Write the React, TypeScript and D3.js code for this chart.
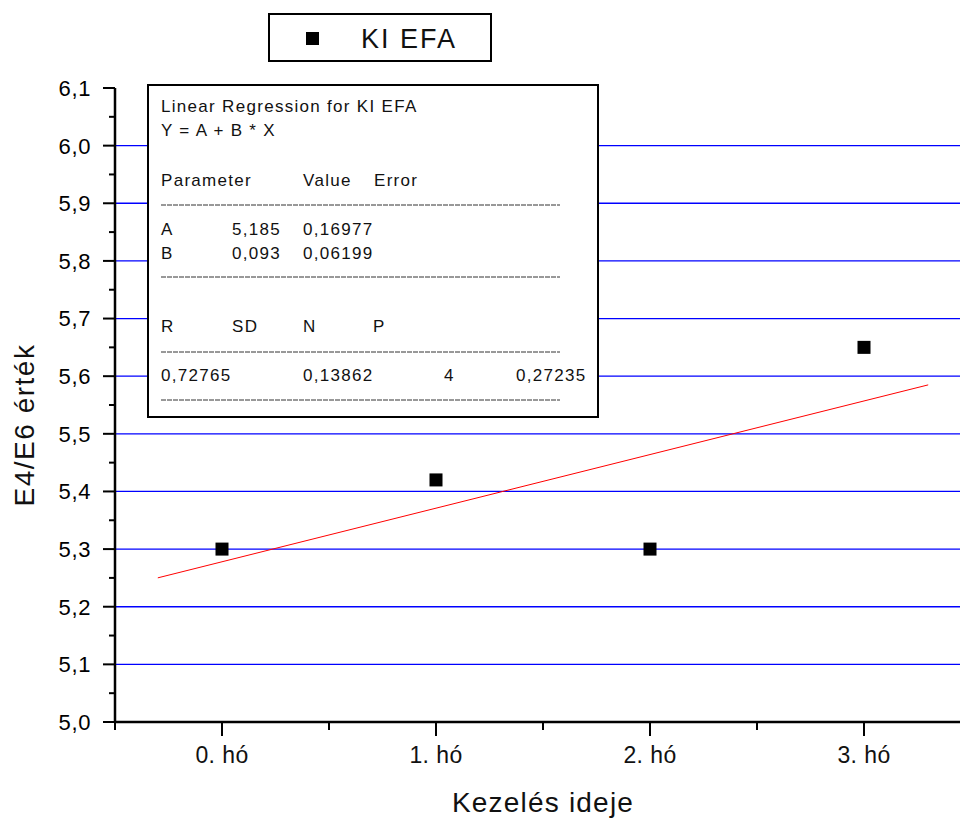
import React from "react";
import * as d3 from "d3";

const categories = ["0. hó", "1. hó", "2. hó", "3. hó"];
const values = [5.3, 5.42, 5.3, 5.65];
const yTicks = [5.0, 5.1, 5.2, 5.3, 5.4, 5.5, 5.6, 5.7, 5.8, 5.9, 6.0, 6.1];
const yMinor = [5.05, 5.15, 5.25, 5.35, 5.45, 5.55, 5.65, 5.75, 5.85, 5.95, 6.05];
const xMinor = [-0.5, 0.5, 1.5, 2.5, 3.5];
const regA = 5.185;
const regB = 0.093;
const regXRange = [0.7, 4.3];
const seriesName = "KI EFA";

const W = 960;
const H = 819;
const fmt = (v: number) => v.toFixed(1).replace(".", ",");

export default function App() {
  const x = d3.scaleLinear().domain([-0.5, 3.5]).range([115, 971]);
  const y = d3.scaleLinear().domain([5.0, 6.1]).range([722, 88]);
  const font = "'Liberation Sans', Arial, sans-serif";
  const regLine = d3
    .line<number>()
    .x((X) => x(X - 1))
    .y((X) => y(regA + regB * X));

  const bx = 148, by = 85, bw = 450, bh = 332;
  const col = [161, 232, 303, 374];
  const tf = { fontFamily: font, fontSize: 17, letterSpacing: 1.3, fill: "#111" };
  const dash = (yy: number) => (
    <line x1={161} x2={560} y1={yy} y2={yy} stroke="#333" strokeWidth={1} strokeDasharray="5 1" />
  );

  return (
    <svg width={W} height={H} style={{ position: "absolute", left: 0, top: 0, background: "#fff" }}>
      <rect width={W} height={H} fill="#fff" />
      {/* grid */}
      {yTicks.slice(1, -1).map((t) => (
        <line key={t} x1={115} x2={W} y1={y(t)} y2={y(t)} stroke="#0000ff" strokeWidth={1.3} />
      ))}
      {/* axes */}
      <line x1={115} x2={115} y1={y(6.1)} y2={y(5.0) + 1} stroke="#000" strokeWidth={2.5} />
      <line x1={114} x2={W} y1={y(5.0)} y2={y(5.0)} stroke="#000" strokeWidth={2.5} />
      {yTicks.map((t) => (
        <g key={t}>
          <line x1={103} x2={115} y1={y(t)} y2={y(t)} stroke="#000" strokeWidth={2} />
          <text x={91} y={y(t)} dy="0.36em" textAnchor="end" fontFamily={font} fontSize={22} letterSpacing={0.6} fill="#000">
            {fmt(t)}
          </text>
        </g>
      ))}
      {yMinor.map((t) => (
        <line key={t} x1={109} x2={115} y1={y(t)} y2={y(t)} stroke="#000" strokeWidth={2} />
      ))}
      {categories.map((c, i) => (
        <g key={c}>
          <line x1={x(i)} x2={x(i)} y1={y(5.0)} y2={y(5.0) + 14} stroke="#000" strokeWidth={2} />
          <text x={x(i)} y={763} textAnchor="middle" fontFamily={font} fontSize={23} letterSpacing={0.4} fill="#111">
            {c}
          </text>
        </g>
      ))}
      {xMinor.map((t) => (
        <line key={t} x1={x(t)} x2={x(t)} y1={y(5.0)} y2={y(5.0) + 8} stroke="#000" strokeWidth={2} />
      ))}
      {/* axis titles */}
      <text x={543} y={812} textAnchor="middle" fontFamily={font} fontSize={28} letterSpacing={1.2} fill="#111">
        Kezelés ideje
      </text>
      <text
        transform={`translate(34,425) rotate(-90)`}
        textAnchor="middle"
        fontFamily={font}
        fontSize={28}
        letterSpacing={1.5}
        fill="#111"
      >
        E4/E6 érték
      </text>
      {/* regression line */}
      <path d={regLine(regXRange) || ""} fill="none" stroke="#ff0000" strokeWidth={1} />
      {/* points */}
      {values.map((v, i) => (
        <rect key={i} x={x(i) - 6.5} y={y(v) - 6.5} width={13} height={13} fill="#000" />
      ))}
      {/* legend */}
      <rect x={269} y={14} width={222} height={47} fill="#fff" stroke="#000" strokeWidth={2} />
      <rect x={306} y={32} width={13} height={13} fill="#000" />
      <text x={361} y={48} fontFamily={font} fontSize={27} letterSpacing={2} fill="#111">
        {seriesName}
      </text>
      {/* regression box */}
      <rect x={bx} y={by} width={bw} height={bh} fill="#fff" stroke="#000" strokeWidth={2} />
      <text x={col[0]} y={112} {...tf}>Linear Regression for {seriesName}</text>
      <text x={col[0]} y={136} {...tf}>Y = A + B * X</text>
      <text x={col[0]} y={186} {...tf}>Parameter</text>
      <text x={col[2]} y={186} {...tf}>Value</text>
      <text x={col[3]} y={186} {...tf}>Error</text>
      {dash(205)}
      <text x={col[0]} y={235} {...tf}>A</text>
      <text x={col[1]} y={235} {...tf}>{String(regA).replace(".", ",")}</text>
      <text x={col[2]} y={235} {...tf}>0,16977</text>
      <text x={col[0]} y={259} {...tf}>B</text>
      <text x={col[1]} y={259} {...tf}>{String(regB).replace(".", ",")}</text>
      <text x={col[2]} y={259} {...tf}>0,06199</text>
      {dash(277)}
      <text x={col[0]} y={332} {...tf}>R</text>
      <text x={col[1]} y={332} {...tf}>SD</text>
      <text x={col[2]} y={332} {...tf}>N</text>
      <text x={373} y={332} {...tf}>P</text>
      {dash(352)}
      <text x={col[0]} y={381} {...tf}>0,72765</text>
      <text x={col[2]} y={381} {...tf}>0,13862</text>
      <text x={444} y={381} {...tf}>4</text>
      <text x={516} y={381} {...tf}>0,27235</text>
      {dash(400)}
    </svg>
  );
}
